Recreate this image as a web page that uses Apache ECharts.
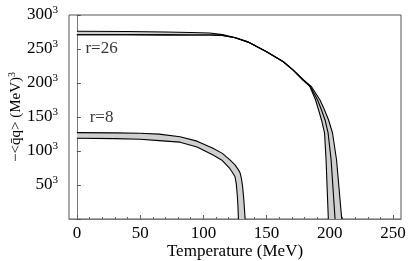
<!DOCTYPE html>
<html>
<head>
<meta charset="utf-8">
<script src="https://cdn.jsdelivr.net/npm/echarts@6/dist/echarts.min.js"></script>
<style>html,body{margin:0;padding:0;background:#fff;}#c{width:409px;height:261px;}</style>
</head>
<body>
<div id="c"></div>
<script>
// ---- data ----
const xTicks = [0, 50, 100, 150, 200, 250];
const xMinorTicks = [0,10,20,30,40,50,60,70,80,90,100,110,120,130,140,150,160,170,180,190,200,210,220,230,240,250];
const yTicks = [50, 100, 150, 200, 250, 300];

// r=8 band
const r8UpperT = [0, 30, 50, 65, 81.5, 95, 107.6, 115, 121, 125, 127.5, 129, 130, 131, 132, 133];
const r8UpperV = [127, 126.7, 126, 124.8, 121, 114.5, 104, 96.5, 87, 79.5, 73, 68, 60, 48, 28, 0];
const r8LowerT = [0, 30, 50, 65, 81.5, 95, 107.6, 115, 121, 123.5, 125, 126, 126.8, 127.3, 127.7];
const r8LowerV = [118.7, 118.2, 117.2, 115.2, 113, 106, 94, 86, 74, 67, 62, 52, 35, 20, 0];

// r=26 curves
const r26AT = [0, 40, 70, 90, 105, 115, 125, 135, 150, 163.2, 171, 178.8, 184.3, 188.7, 191.1, 193.4, 195.8, 197, 198.8];
const r26AV = [276, 275.8, 275, 274.2, 273.5, 271.2, 267, 260.5, 246, 231.3, 219, 204.4, 194.6, 175, 160.3, 145.6, 126.5, 86.8, 0];
const r26BT = [0, 40, 70, 90, 105, 115, 125, 135, 150, 163.2, 171, 178.8, 184.7, 190.3, 193.4, 196.2, 198.6, 201, 204.1];
const r26BV = [271, 271, 270.8, 270.6, 270.6, 270, 266.5, 260.5, 246, 231.3, 219, 204.4, 194.6, 175, 160.3, 145.6, 126.5, 86.8, 0];
const r26CT = [0, 40, 70, 90, 105, 115, 125, 135, 150, 163.2, 171, 179.2, 185.5, 192.2, 195.8, 199, 202.1, 205.3, 209.4];
const r26CV = [271, 271, 270.8, 270.6, 270.6, 270, 266.5, 260.5, 246, 231.3, 219, 204.4, 194.6, 175, 160.3, 145.6, 126.5, 86.8, 0];

const labelTexts = ['r=26', 'r=8'];
const labelAnchors = [[19.5, 250.5], [19.5, 149]];

// ---- build ----
const FONT = '"Liberation Serif", "DejaVu Serif", serif';
const zip = (t, v) => t.map((x, i) => [x, v[i]]);

function band(upperT, upperV, lowerT, lowerV) {
  const up = zip(upperT, upperV), lo = zip(lowerT, lowerV).reverse();
  const pts = up.concat(lo);
  return {
    type: 'custom', xAxisIndex: 0, yAxisIndex: 0, z: 1, silent: true,
    data: [[0, 0]],
    renderItem: function (params, api) {
      return {
        type: 'polygon',
        shape: { points: pts.map(p => api.coord(p)) },
        style: { fill: '#cfcfcf', stroke: null }
      };
    }
  };
}
function line(t, v) {
  return {
    type: 'line', xAxisIndex: 0, yAxisIndex: 0, z: 3, silent: true,
    data: zip(t, v), showSymbol: false, smooth: false,
    lineStyle: { color: '#000', width: 1.1, join: 'round' }
  };
}

const chart = echarts.init(document.getElementById('c'), null, { renderer: 'canvas' });
chart.setOption({
  animation: false,
  backgroundColor: '#fff',
  grid: { left: 69, right: 8, top: 15, bottom: 42, show: true, borderColor: '#555', borderWidth: 1, containLabel: false, outerBoundsMode: 'none' },
  xAxis: [{
    type: 'value', min: -6.25, max: 256.25,
    name: 'Temperature (MeV)', nameLocation: 'middle', nameGap: 24, nameMoveOverlap: false,
    nameTextStyle: { fontFamily: FONT, fontSize: 17, color: '#000' },
    axisLine: { show: true, lineStyle: { color: '#777', width: 1 } },
    axisTick: { show: true, inside: true, length: 4, customValues: xTicks, lineStyle: { color: '#555' } },
    axisLabel: { customValues: xTicks, fontFamily: FONT, fontSize: 17, color: '#000', margin: 6 },
    splitLine: { show: false }
  }, {
    type: 'value', min: -6.25, max: 256.25, position: 'bottom',
    axisLine: { show: false },
    axisTick: { show: true, inside: true, length: 2, customValues: xMinorTicks, lineStyle: { color: '#666' } },
    axisLabel: { show: false },
    splitLine: { show: false }
  }],
  yAxis: [{
    type: 'value', min: 0, max: 300, interval: 50,
    name: '{n|−<q̄q> (MeV)}{s|3}', nameLocation: 'middle', nameGap: 44, nameRotate: 90, nameMoveOverlap: false,
    nameTextStyle: {
      fontFamily: FONT, fontSize: 15, color: '#000',
      rich: {
        n: { fontFamily: FONT, fontSize: 15, color: '#000', lineHeight: 18 },
        s: { fontFamily: FONT, fontSize: 10, color: '#000', verticalAlign: 'top', lineHeight: 11 }
      }
    },
    axisLine: { show: true, lineStyle: { color: '#777', width: 1 } },
    axisTick: { show: true, inside: true, length: 4, lineStyle: { color: '#555' } },
    axisLabel: {
      fontFamily: FONT, fontSize: 17, color: '#000', margin: 11,
      formatter: v => (v === 0 ? '' : '{b|' + v + '}{s|3}'),
      rich: {
        b: { fontFamily: FONT, fontSize: 17, color: '#000', lineHeight: 20 },
        s: { fontFamily: FONT, fontSize: 11, color: '#000', verticalAlign: 'top', lineHeight: 12 }
      }
    },
    splitLine: { show: false }
  }],
  series: [
    band(r8UpperT, r8UpperV, r8LowerT, r8LowerV),
    band(r26AT, r26AV, r26CT, r26CV),
    line(r8UpperT, r8UpperV),
    line(r8LowerT, r8LowerV),
    line(r26AT, r26AV),
    line(r26BT, r26BV),
    line(r26CT, r26CV),
    {
      type: 'scatter', xAxisIndex: 0, yAxisIndex: 0, z: 5, silent: true,
      symbolSize: 0,
      data: labelAnchors.map((p, i) => ({ value: p, name: labelTexts[i] })),
      label: { show: true, position: 'inside', formatter: p => p.name, fontFamily: FONT, fontSize: 17, color: '#000' }
    }
  ]
});
</script>
</body>
</html>
